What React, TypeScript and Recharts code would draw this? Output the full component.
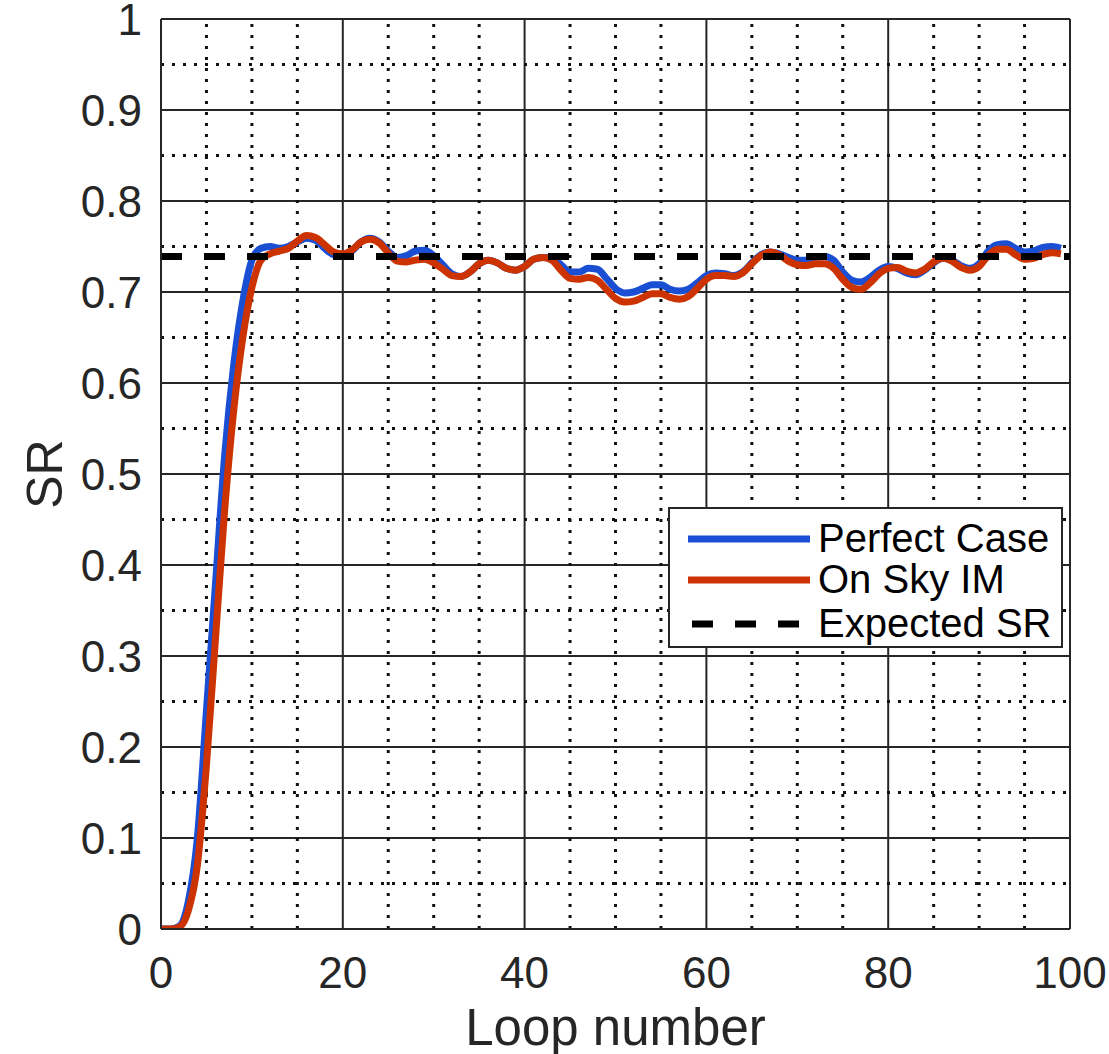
import React from 'react';
import { LineChart, Line, XAxis, YAxis, CartesianGrid, ReferenceLine } from 'recharts';

const LOOPS = [
  0, 1, 2, 3, 4, 5, 6, 7, 8, 9,
  10, 11, 12, 13, 14, 15, 16, 17, 18, 19,
  20, 21, 22, 23, 24, 25, 26, 27, 28, 29,
  30, 31, 32, 33, 34, 35, 36, 37, 38, 39,
  40, 41, 42, 43, 44, 45, 46, 47, 48, 49,
  50, 51, 52, 53, 54, 55, 56, 57, 58, 59,
  60, 61, 62, 63, 64, 65, 66, 67, 68, 69,
  70, 71, 72, 73, 74, 75, 76, 77, 78, 79,
  80, 81, 82, 83, 84, 85, 86, 87, 88, 89,
  90, 91, 92, 93, 94, 95, 96, 97, 98, 99,
];

const PERFECT_CASE = [
  0, 0, 0.003, 0.03, 0.10, 0.24, 0.38, 0.52, 0.62, 0.69,
  0.735, 0.748, 0.750, 0.748, 0.750, 0.755, 0.759, 0.757, 0.748, 0.741,
  0.740, 0.745, 0.755, 0.759, 0.755, 0.745, 0.738, 0.740, 0.745, 0.746,
  0.740, 0.730, 0.720, 0.717, 0.722, 0.731, 0.735, 0.732, 0.726, 0.724,
  0.728, 0.736, 0.738, 0.737, 0.730, 0.722, 0.722, 0.726, 0.725, 0.715,
  0.704, 0.699, 0.700, 0.704, 0.708, 0.708, 0.703, 0.701, 0.703, 0.710,
  0.718, 0.721, 0.720, 0.718, 0.722, 0.732, 0.741, 0.744, 0.742, 0.738,
  0.735, 0.735, 0.738, 0.739, 0.735, 0.722, 0.713, 0.711, 0.716, 0.724,
  0.728, 0.726, 0.721, 0.719, 0.724, 0.732, 0.737, 0.735, 0.729, 0.726,
  0.731, 0.745, 0.752, 0.753, 0.748, 0.744, 0.745, 0.749, 0.750, 0.748,
];

const ON_SKY_IM = [
  0, 0, 0.002, 0.02, 0.07, 0.18, 0.32, 0.46, 0.57, 0.65,
  0.705, 0.735, 0.742, 0.745, 0.748, 0.756, 0.762, 0.760, 0.752, 0.744,
  0.742, 0.746, 0.755, 0.758, 0.754, 0.743, 0.734, 0.733, 0.735, 0.736,
  0.732, 0.725, 0.718, 0.717, 0.722, 0.731, 0.735, 0.732, 0.726, 0.724,
  0.728, 0.736, 0.738, 0.735, 0.724, 0.715, 0.714, 0.716, 0.713, 0.703,
  0.693, 0.689, 0.690, 0.694, 0.698, 0.698, 0.694, 0.692, 0.695, 0.704,
  0.714, 0.718, 0.718, 0.717, 0.721, 0.731, 0.740, 0.744, 0.741, 0.734,
  0.730, 0.729, 0.731, 0.731, 0.726, 0.714, 0.705, 0.703, 0.710, 0.720,
  0.726, 0.727, 0.723, 0.721, 0.725, 0.733, 0.737, 0.734, 0.727, 0.724,
  0.728, 0.740, 0.747, 0.747, 0.741, 0.736, 0.737, 0.741, 0.743, 0.742,
];

const EXPECTED_SR = 0.739;

const X_TICKS = [0, 20, 40, 60, 80, 100];
const Y_TICKS = [0, 0.1, 0.2, 0.3, 0.4, 0.5, 0.6, 0.7, 0.8, 0.9, 1];
const X_MINOR = [5, 10, 15, 25, 30, 35, 45, 50, 55, 65, 70, 75, 85, 90, 95];
const Y_MINOR = [0.05, 0.15, 0.25, 0.35, 0.45, 0.55, 0.65, 0.75, 0.85, 0.95];

const X_LABEL = 'Loop number';
const Y_LABEL = 'SR';

const SERIES = [
  { key: 'perfect', name: 'Perfect Case', color: '#1a4fd4' },
  { key: 'onsky', name: 'On Sky IM', color: '#cc3300' },
];
const EXPECTED_NAME = 'Expected SR';

const data = LOOPS.map((loop, i) => ({
  loop,
  perfect: PERFECT_CASE[i],
  onsky: ON_SKY_IM[i],
}));

const FONT = '"Liberation Sans", Arial, Helvetica, sans-serif';
const AXIS_COLOR = '#262626';

const XLabel = (props: any) => {
  const vb = props.viewBox || { x: 161, y: 929, width: 909, height: 125 };
  return (
    <text
      x={vb.x + vb.width / 2}
      y={vb.y + 116}
      textAnchor="middle"
      fontSize={51}
      fontFamily={FONT}
      fill={AXIS_COLOR}
    >
      {X_LABEL}
    </text>
  );
};

const YLabel = (props: any) => {
  const vb = props.viewBox || { x: 0, y: 19, width: 161, height: 910 };
  const cx = vb.x + 62;
  const cy = vb.y + vb.height / 2;
  return (
    <text
      x={cx}
      y={cy}
      transform={`rotate(-90 ${cx} ${cy})`}
      textAnchor="middle"
      fontSize={50}
      fontFamily={FONT}
      fill={AXIS_COLOR}
    >
      {Y_LABEL}
    </text>
  );
};

const LegendBox = () => {
  const rows = [
    ...SERIES.map((s) => ({ name: s.name, color: s.color, width: 7, dash: undefined as string | undefined })),
    { name: EXPECTED_NAME, color: '#000000', width: 7, dash: '21 22' },
  ];
  const lineY = [32, 73, 117];
  return (
    <div
      style={{
        position: 'absolute',
        left: 668,
        top: 507,
        width: 395,
        height: 141,
        boxSizing: 'border-box',
        border: `2px solid ${AXIS_COLOR}`,
        background: '#ffffff',
      }}
    >
      <svg width={391} height={137} style={{ position: 'absolute', left: 0, top: 0 }}>
        {rows.map((r, i) => (
          <g key={r.name}>
            <line
              x1={r.dash ? 22 : 18}
              x2={140}
              y1={lineY[i] - 2}
              y2={lineY[i] - 2}
              stroke={r.color}
              strokeWidth={r.width}
              strokeDasharray={r.dash}
            />
            <text
              x={148}
              y={lineY[i] + 11}
              fontSize={40}
              fontFamily={FONT}
              fill="#000000"
            >
              {r.name}
            </text>
          </g>
        ))}
      </svg>
    </div>
  );
};

export default function App() {
  return (
    <div
      style={{
        position: 'absolute',
        left: 0,
        top: 0,
        width: 1109,
        height: 1054,
        overflow: 'hidden',
        background: '#ffffff',
      }}
    >
      <LineChart
        width={1109}
        height={1054}
        data={data}
        margin={{ top: 19, right: 39, left: 0, bottom: 0 }}
      >
        <CartesianGrid stroke={AXIS_COLOR} strokeWidth={2} strokeDasharray="" />
        {X_MINOR.map((v) => (
          <ReferenceLine
            key={`xm${v}`}
            x={v}
            stroke="#111111"
            strokeWidth={3}
            strokeDasharray="3 8"
          />
        ))}
        {Y_MINOR.map((v) => (
          <ReferenceLine
            key={`ym${v}`}
            y={v}
            stroke="#111111"
            strokeWidth={3}
            strokeDasharray="3 8"
          />
        ))}
        <XAxis
          dataKey="loop"
          type="number"
          domain={[0, 100]}
          ticks={X_TICKS}
          interval={0}
          allowDataOverflow
          height={125}
          tickLine={false}
          tickSize={8}
          tickMargin={20}
          axisLine={{ stroke: AXIS_COLOR, strokeWidth: 2 }}
          tick={{ fontSize: 44, fill: AXIS_COLOR, fontFamily: FONT }}
          label={(p: any) => <XLabel {...p} />}
        />
        <YAxis
          type="number"
          domain={[0, 1]}
          ticks={Y_TICKS}
          interval={0}
          allowDataOverflow
          width={161}
          tickLine={false}
          tickSize={8}
          tickMargin={11}
          axisLine={{ stroke: AXIS_COLOR, strokeWidth: 2 }}
          tick={{ fontSize: 44, fill: AXIS_COLOR, fontFamily: FONT }}
          label={(p: any) => <YLabel {...p} />}
        />
        {SERIES.map((s) => (
          <Line
            key={s.key}
            type="monotone"
            dataKey={s.key}
            name={s.name}
            stroke={s.color}
            strokeWidth={7}
            dot={false}
            activeDot={false}
            isAnimationActive={false}
          />
        ))}
        <ReferenceLine
          y={EXPECTED_SR}
          stroke="#000000"
          strokeWidth={7}
          strokeDasharray="21 22"
        />
      </LineChart>
      <LegendBox />
    </div>
  );
}
